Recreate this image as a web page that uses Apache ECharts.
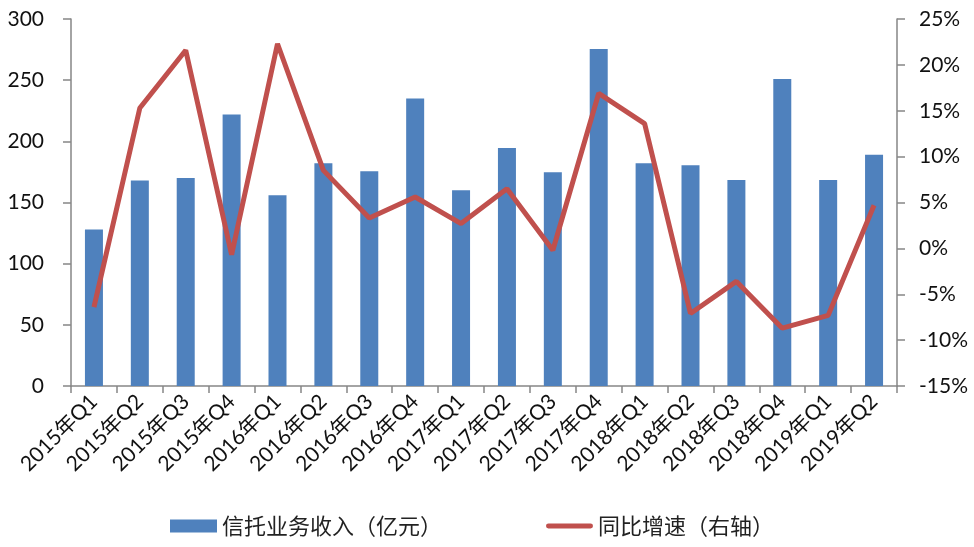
<!DOCTYPE html>
<html><head><meta charset="utf-8">
<script src="https://cdn.jsdelivr.net/npm/echarts@6/dist/echarts.min.js"></script>
<style>html,body{margin:0;padding:0;background:#fff}#c{width:974px;height:547px}</style>
</head><body><div id="c"></div>
<script>
var categories = ['2015年Q1','2015年Q2','2015年Q3','2015年Q4','2016年Q1','2016年Q2','2016年Q3','2016年Q4','2017年Q1','2017年Q2','2017年Q3','2017年Q4','2018年Q1','2018年Q2','2018年Q3','2018年Q4','2019年Q1','2019年Q2'];
var income = [128, 168, 170, 222, 156, 182, 175.5, 235, 160, 194.5, 174.7, 275.5, 182, 180.5, 168.4, 251, 168.4, 189];
var growth = [-6.4, 15.3, 21.6, -0.7, 22.3, 8.5, 3.3, 5.6, 2.7, 6.5, -0.2, 16.9, 13.6, -7.1, -3.6, -8.7, -7.3, 4.7];
var leftTicks = {min: 0, max: 300, interval: 50};
var rightTicks = {min: -15, max: 25, interval: 5};

var font = 'Lato, "Noto Sans CJK SC", sans-serif';
var axisColor = '#868686';
var chart = echarts.init(document.getElementById('c'));
chart.setOption({
  animation: false,
  textStyle: {fontFamily: font},
  grid: {left: 71, right: 77, top: 19, bottom: 161},
  legend: {
    bottom: 5, left: 165, itemGap: 104, itemWidth: 47, itemHeight: 13,
    textStyle: {fontSize: 22, color: '#222', fontFamily: '"Noto Sans CJK SC", sans-serif'},
    data: [
      {name: '信托业务收入（亿元）', icon: 'rect'},
      {name: '同比增速（右轴）', icon: 'path://M2,0 L45,0 A2,2 0 0 1 45,5 L2,5 A2,2 0 0 1 2,0 Z'}
    ]
  },
  xAxis: {
    type: 'category', data: categories, boundaryGap: true,
    axisLine: {lineStyle: {color: axisColor, width: 1.5}},
    axisTick: {show: true, length: 7, lineStyle: {color: axisColor, width: 1.5}},
    axisLabel: {rotate: 45, fontSize: 21, color: '#111', margin: 12, interval: 0, fontFamily: font}
  },
  yAxis: [{
    type: 'value', min: leftTicks.min, max: leftTicks.max, interval: leftTicks.interval,
    axisLine: {show: true, lineStyle: {color: axisColor, width: 1.5}},
    axisTick: {show: true, length: 8, lineStyle: {color: axisColor, width: 1.5}},
    splitLine: {show: false},
    axisLabel: {fontSize: 21, color: '#111', margin: 27}
  }, {
    type: 'value', min: rightTicks.min, max: rightTicks.max, interval: rightTicks.interval,
    position: 'right',
    axisLine: {show: true, lineStyle: {color: axisColor, width: 1.5}},
    axisTick: {show: true, length: 8, lineStyle: {color: axisColor, width: 1.5}},
    splitLine: {show: false},
    axisLabel: {fontSize: 21, color: '#111', margin: 22, formatter: '{value}%'}
  }],
  series: [{
    name: '信托业务收入（亿元）', type: 'bar', yAxisIndex: 0, data: income,
    barWidth: 18, itemStyle: {color: '#4F81BD'}
  }, {
    name: '同比增速（右轴）', type: 'line', yAxisIndex: 1, data: growth,
    symbol: 'none', lineStyle: {color: '#C0504D', width: 5}, itemStyle: {color: '#C0504D'}
  }]
});
</script></body></html>
